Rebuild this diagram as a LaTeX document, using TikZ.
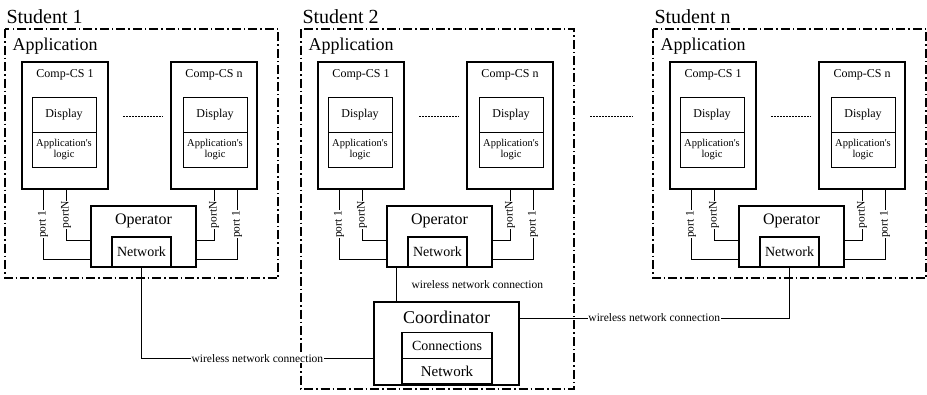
\documentclass[tikz,border=0pt]{standalone}
\usepackage{fontspec}
\setmainfont{Liberation Serif}
\newcommand{\fs}[1]{\fontsize{#1}{#1}\selectfont}
\newcommand{\student}[4]{
    \begin{scope}[xshift=#2pt]
        \draw[frame] (5,29) rectangle (278,#4);
        \node[anchor=base west,font=\fs{20}] (#1title) at (3,23) {#3};
        \node[anchor=base west,font=\fs{18}] (#1app) at (9,50) {Application};
        \node[csbox] (#1csa) at (65,125.5) {};
        \node[cstitle] (#1csat) at (65,77) {Comp-CS 1};
        \node[inbox] (#1dispa) at (64,114.5) {Display};
        \node[inbox,logic] (#1logica) at (64,149.5) {Application\textquotesingle s\\logic};
        \node[csbox] (#1csb) at (214,125.5) {};
        \node[cstitle] (#1csbt) at (214,77) {Comp-CS n};
        \node[inbox] (#1dispb) at (215,114.5) {Display};
        \node[inbox,logic] (#1logicb) at (215,149.5) {Application\textquotesingle s\\logic};
        \draw[dotline] (123,116) -- (163,116);
        \node[opbox] (#1op) at (143.5,236.5) {};
        \node[anchor=base,font=\fs{16}] (#1opt) at (143.5,224) {Operator};
        \node[netbox] (#1net) at (141.5,252) {Network};
        \coordinate (#1pa) at (43,259);
        \coordinate (#1pb) at (66,240);
        \coordinate (#1pc) at (214,240);
        \coordinate (#1pd) at (237,259);
        \draw[port] (#1csa.south -| #1pa) -- node[portlab] (#1lpa) {port 1} (#1pa) -- (#1pa -| #1op.west);
        \draw[port] (#1csa.south -| #1pb) -- node[portlab] (#1lpb) {portN} (#1pb) -- (#1pb -| #1op.west);
        \draw[port] (#1csb.south -| #1pc) -- node[portlab] (#1lpc) {portN} (#1pc) -- (#1pc -| #1op.east);
        \draw[port] (#1csb.south -| #1pd) -- node[portlab] (#1lpd) {port 1} (#1pd) -- (#1pd -| #1op.east);
    \end{scope}
}

\begin{document}
\begin{tikzpicture}[x=1pt,y=-1pt]
    \tikzstyle{frame}=[line width=1.1pt,dash pattern=on 9pt off 3pt on 1.5pt off 3pt]
    \tikzstyle{csbox}=[draw,line width=1.3pt,minimum width=86pt,minimum height=127pt,inner sep=0pt]
    \tikzstyle{cstitle}=[anchor=base,font=\fs{12}]
    \tikzstyle{inbox}=[draw,line width=0.8pt,minimum width=64pt,minimum height=35pt,inner sep=0pt,font=\fs{12}]
    \tikzstyle{logic}=[font=\fs{10.5},align=center]
    \tikzstyle{opbox}=[draw,line width=1.6pt,minimum width=105pt,minimum height=61pt,inner sep=0pt]
    \tikzstyle{netbox}=[draw,line width=1.8pt,minimum width=59pt,minimum height=30pt,inner sep=0pt,font=\fs{14}]
    \tikzstyle{dotline}=[line width=0.7pt,dash pattern=on 1.5pt off 1.5pt]
    \tikzstyle{port}=[line width=0.9pt]
    \tikzstyle{portlab}=[rotate=90,fill=white,inner sep=0.5pt,font=\fs{11.5}]
    \tikzstyle{wire}=[line width=0.9pt]
    \tikzstyle{wlab}=[fill=white,inner sep=0.5pt,font=\fs{11.5}]
    \tikzstyle{coordbox}=[draw,line width=1.3pt,minimum width=145pt,minimum height=83pt,inner sep=0pt]
    \tikzstyle{conbox}=[draw,line width=1.3pt,minimum width=90pt,minimum height=25.5pt,inner sep=0pt]
    \useasboundingbox (0,0) rectangle (927,394);

    \student{s1}{0}{Student 1}{278}
    \student{s2}{296}{Student 2}{389}
    \student{sn}{648}{Student n}{278}

    \draw[dotline] (590,116) -- (633,116);

    \node[coordbox] (coord) at (446.5,343.5) {};
    \node[anchor=base,font=\fs{18}] (coordt) at (446.5,323) {Coordinator};
    \node[conbox,font=\fs{14}] (conn) at (447,345.5) {Connections};
    \node[conbox,font=\fs{15}] (cnet) at (447,371) {Network};

    \coordinate (w2) at (396,267);
    \coordinate (w3) at (519,318);
    \draw[wire] (w2) -- (w2 |- coord.north);
    \node[anchor=west,font=\fs{11.5}] (wl2) at (408,285) {wireless network connection};
    \draw[wire] (s1net.south) -- (s1net.south |- conn.south) -- node[wlab] (wl1) {wireless network connection} (coord.west |- conn.south);
    \draw[wire] (w3) -- node[wlab] (wl3) {wireless network connection} (w3 -| snnet.south) -- (snnet.south);
\end{tikzpicture}
\end{document}
